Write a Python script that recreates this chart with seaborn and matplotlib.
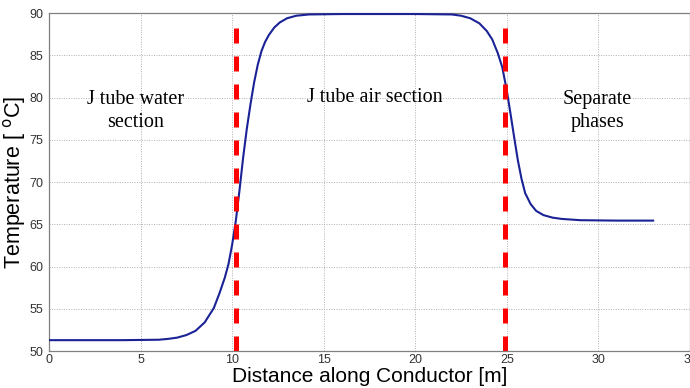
import matplotlib
matplotlib.use("Agg")
import matplotlib.pyplot as plt
import seaborn as sns
import pandas as pd

distance = [0, 2, 4, 6, 6.5, 7, 7.5, 8, 8.5, 9.0, 9.3, 9.6, 9.8, 10.0, 10.2, 10.4, 10.6, 10.8,
            11.0, 11.2, 11.4, 11.6, 11.8, 12.0, 12.3, 12.6, 13.0, 13.5, 14.2, 16, 18, 20,
            22.0, 22.5, 23.0, 23.5, 23.9, 24.2, 24.5, 24.75, 25.0, 25.2, 25.4, 25.6, 25.8,
            26.0, 26.3, 26.6, 27.0, 27.5, 28.0, 29, 31, 33]
temperature = [51.3, 51.3, 51.3, 51.35, 51.45, 51.6, 51.9, 52.4, 53.4, 55.1, 56.8, 58.7, 60.3,
               62.6, 65.4, 69.0, 72.9, 76.3, 79.2, 81.8, 83.9, 85.5, 86.6, 87.4, 88.3, 88.9,
               89.4, 89.7, 89.85, 89.9, 89.9, 89.9, 89.85, 89.7, 89.4, 88.8, 87.9, 86.9, 85.3,
               83.6, 80.8, 78.1, 75.3, 72.6, 70.4, 68.7, 67.4, 66.6, 66.1, 65.8, 65.65, 65.5,
               65.45, 65.45]
boundaries = [10.2, 24.9]
boundary_top = 88.8
section_labels = ["J tube water\nsection", "J tube air section", "Separate\nphases"]
label_x = [4.7, 17.8, 29.95]
label_y = [78.4, 80.0, 78.4]
xticks = [0, 5, 10, 15, 20, 25, 30, 35]
yticks = [50, 55, 60, 65, 70, 75, 80, 85, 90]

sns.set_theme(style="white")
plt.rcParams["font.family"] = ["Liberation Sans", "DejaVu Sans"]

fig = plt.figure(figsize=(6.9, 3.88), dpi=100)
ax = fig.add_axes([0.071, 0.095, 0.929, 0.871])

df = pd.DataFrame({"Distance": distance, "Temperature": temperature})
sns.lineplot(data=df, x="Distance", y="Temperature", ax=ax, color="#1a2296", linewidth=1.5,
             zorder=3)

for b in boundaries:
    ax.plot([b, b], [50, boundary_top], color="#ff0000", linewidth=3.6, dashes=(3.0, 2.6),
            zorder=4, solid_capstyle="butt", dash_capstyle="butt")

for t, lx, ly in zip(section_labels, label_x, label_y):
    ax.text(lx, ly, t, ha="center", va="center", fontsize=14.5,
            family=["Liberation Serif", "DejaVu Serif"], color="black", linespacing=1.25)

ax.set_xlim(0, 35)
ax.set_ylim(50, 90)
ax.set_xticks(xticks)
ax.set_yticks(yticks)
ax.tick_params(axis="both", labelsize=9, colors="#333333", direction="in", length=3)
ax.tick_params(axis="x", pad=2)
ax.tick_params(axis="y", pad=4)
ax.grid(True, linestyle=(0, (1, 1.5)), color="#b0b0b0", linewidth=0.7)
for s in ["left", "bottom", "top", "right"]:
    ax.spines[s].set_color("#808080")
    ax.spines[s].set_linewidth(0.9)

ax.set_xlabel("Distance along Conductor [m]", fontsize=15, color="black", labelpad=1)
ax.set_ylabel("Temperature [ $^{\\mathrm{o}}$C]", fontsize=15.5, color="black", labelpad=1)

fig.savefig("out.png", dpi=100)
